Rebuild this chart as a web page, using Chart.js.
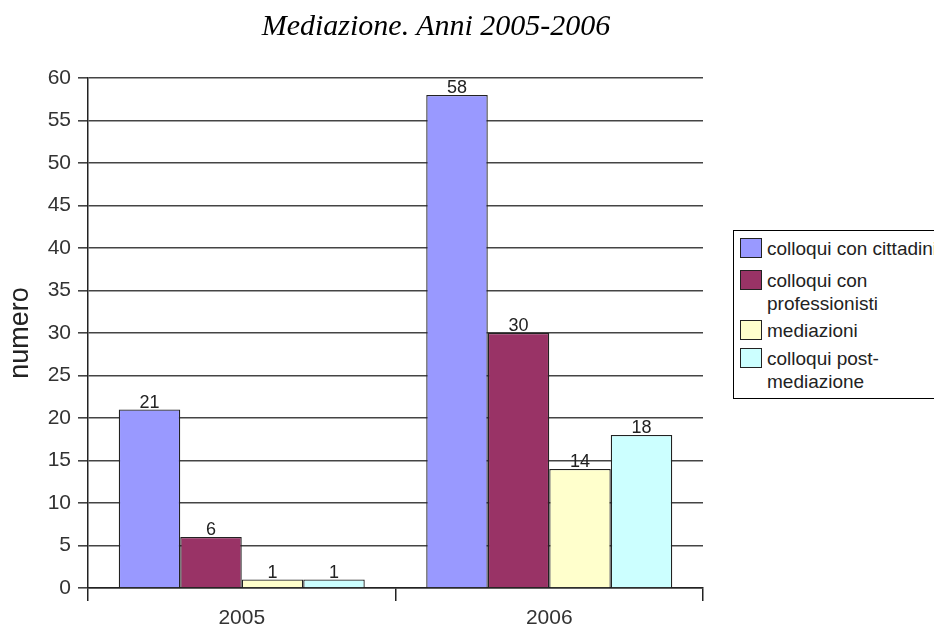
<!DOCTYPE html>
<html>
<head>
<meta charset="utf-8">
<script src="https://cdn.jsdelivr.net/npm/chart.js@4/dist/chart.umd.min.js"></script>
<style>
  html, body { margin: 0; padding: 0; background: #fff; overflow: hidden; }
  #wrap { position: relative; width: 934px; height: 628px; overflow: hidden; }
  #title {
    position: absolute; left: 186px; top: 10px; width: 500px; text-align: center;
    font-family: "Liberation Serif", "Times New Roman", serif; font-style: italic;
    font-size: 30px; line-height: 30px; color: #000; white-space: nowrap;
  }
  #legend {
    position: absolute; left: 733px; top: 230px; width: 240px; height: 167px;
    border: 1px solid #000; background: #fff;
    font-family: "Liberation Sans", Arial, sans-serif; font-size: 19px; color: #222;
  }
  .item { position: absolute; left: 6px; display: flex; align-items: flex-start; white-space: nowrap; }
  .sw { width: 22px; height: 20px; border: 1px solid #222; box-sizing: border-box; margin: 1.5px 5px 0 0; flex: none; }
  .lbl { line-height: 23px; }
  canvas { position: absolute; left: 0; top: 0; }
</style>
</head>
<body>
<div id="wrap">
  <canvas id="c" width="934" height="628"></canvas>
  <div id="title">Mediazione. Anni 2005-2006</div>
  <div id="legend"></div>
</div>
<script>
// data
var years = ["2005", "2006"];
var seriesNames = [["colloqui con cittadini"], ["colloqui con", "professionisti"], ["mediazioni"], ["colloqui post-", "mediazione"]];
var cittadini = [21, 58];
var professionisti = [6, 30];
var mediazioni = [1, 14];
var postMediazione = [1, 18];
var seriesColors = ["#9999ff", "#993366", "#ffffcc", "#ccffff"];
var legendTops = [5.5, 37.5, 87.5, 115.5];

var FONT = "'Liberation Sans', Arial, sans-serif";

var allValues = [cittadini, professionisti, mediazioni, postMediazione];
var datasets = allValues.map(function (vals, i) {
    return {
        label: seriesNames[i].join(" "),
        data: vals,
        backgroundColor: seriesColors[i],
        borderColor: "#222",
        borderWidth: 1.3,
        barPercentage: 1,
        categoryPercentage: 0.8
    };
});

// value labels above bars
var valueLabels = {
    id: "valueLabels",
    afterDatasetsDraw: function (chart) {
        var ctx = chart.ctx;
        ctx.save();
        ctx.font = "18px " + FONT;
        ctx.fillStyle = "#222";
        ctx.textAlign = "center";
        ctx.textBaseline = "alphabetic";
        chart.data.datasets.forEach(function (ds, i) {
            chart.getDatasetMeta(i).data.forEach(function (bar, j) {
                ctx.fillText(ds.data[j], bar.x, bar.y - 2);
            });
        });
        ctx.restore();
    }
};

var ctx = document.getElementById("c").getContext("2d");
var chart = new Chart(ctx, {
    type: "bar",
    data: { labels: years, datasets: datasets },
    options: {
        responsive: false,
        animation: false,
        layout: { padding: { top: 78, right: 231, bottom: -8, left: 0 } },
        plugins: {
            legend: { display: false },
            title: { display: false },
            tooltip: { enabled: false }
        },
        scales: {
            x: {
                offset: true,
                grid: { offset: true, drawOnChartArea: false, color: "#222", tickLength: 13, lineWidth: 1.5 },
                border: { color: "#222", width: 1.5 },
                ticks: { color: "#333", padding: 7, font: { family: FONT, size: 21, lineHeight: 1 } }
            },
            y: {
                min: 0, max: 60,
                afterFit: function (scale) { scale.width = 88; },
                grid: { color: "#444", tickLength: 10, lineWidth: 1.6 },
                border: { color: "#222", width: 1.5 },
                ticks: { stepSize: 5, color: "#333", padding: 7, font: { family: FONT, size: 21 } },
                title: { display: true, text: "numero", color: "#222", padding: { top: 4, bottom: 0 }, font: { family: FONT, size: 27 } }
            }
        }
    },
    plugins: [valueLabels]
});

// legend built from the chart's datasets
var legend = document.getElementById("legend");
chart.data.datasets.forEach(function (ds, i) {
    var item = document.createElement("div");
    item.className = "item";
    item.style.top = legendTops[i] + "px";
    var sw = document.createElement("div");
    sw.className = "sw";
    sw.style.background = ds.backgroundColor;
    var lbl = document.createElement("div");
    lbl.className = "lbl";
    lbl.innerHTML = seriesNames[i].join("<br>");
    item.appendChild(sw);
    item.appendChild(lbl);
    legend.appendChild(item);
});
</script>
</body>
</html>
